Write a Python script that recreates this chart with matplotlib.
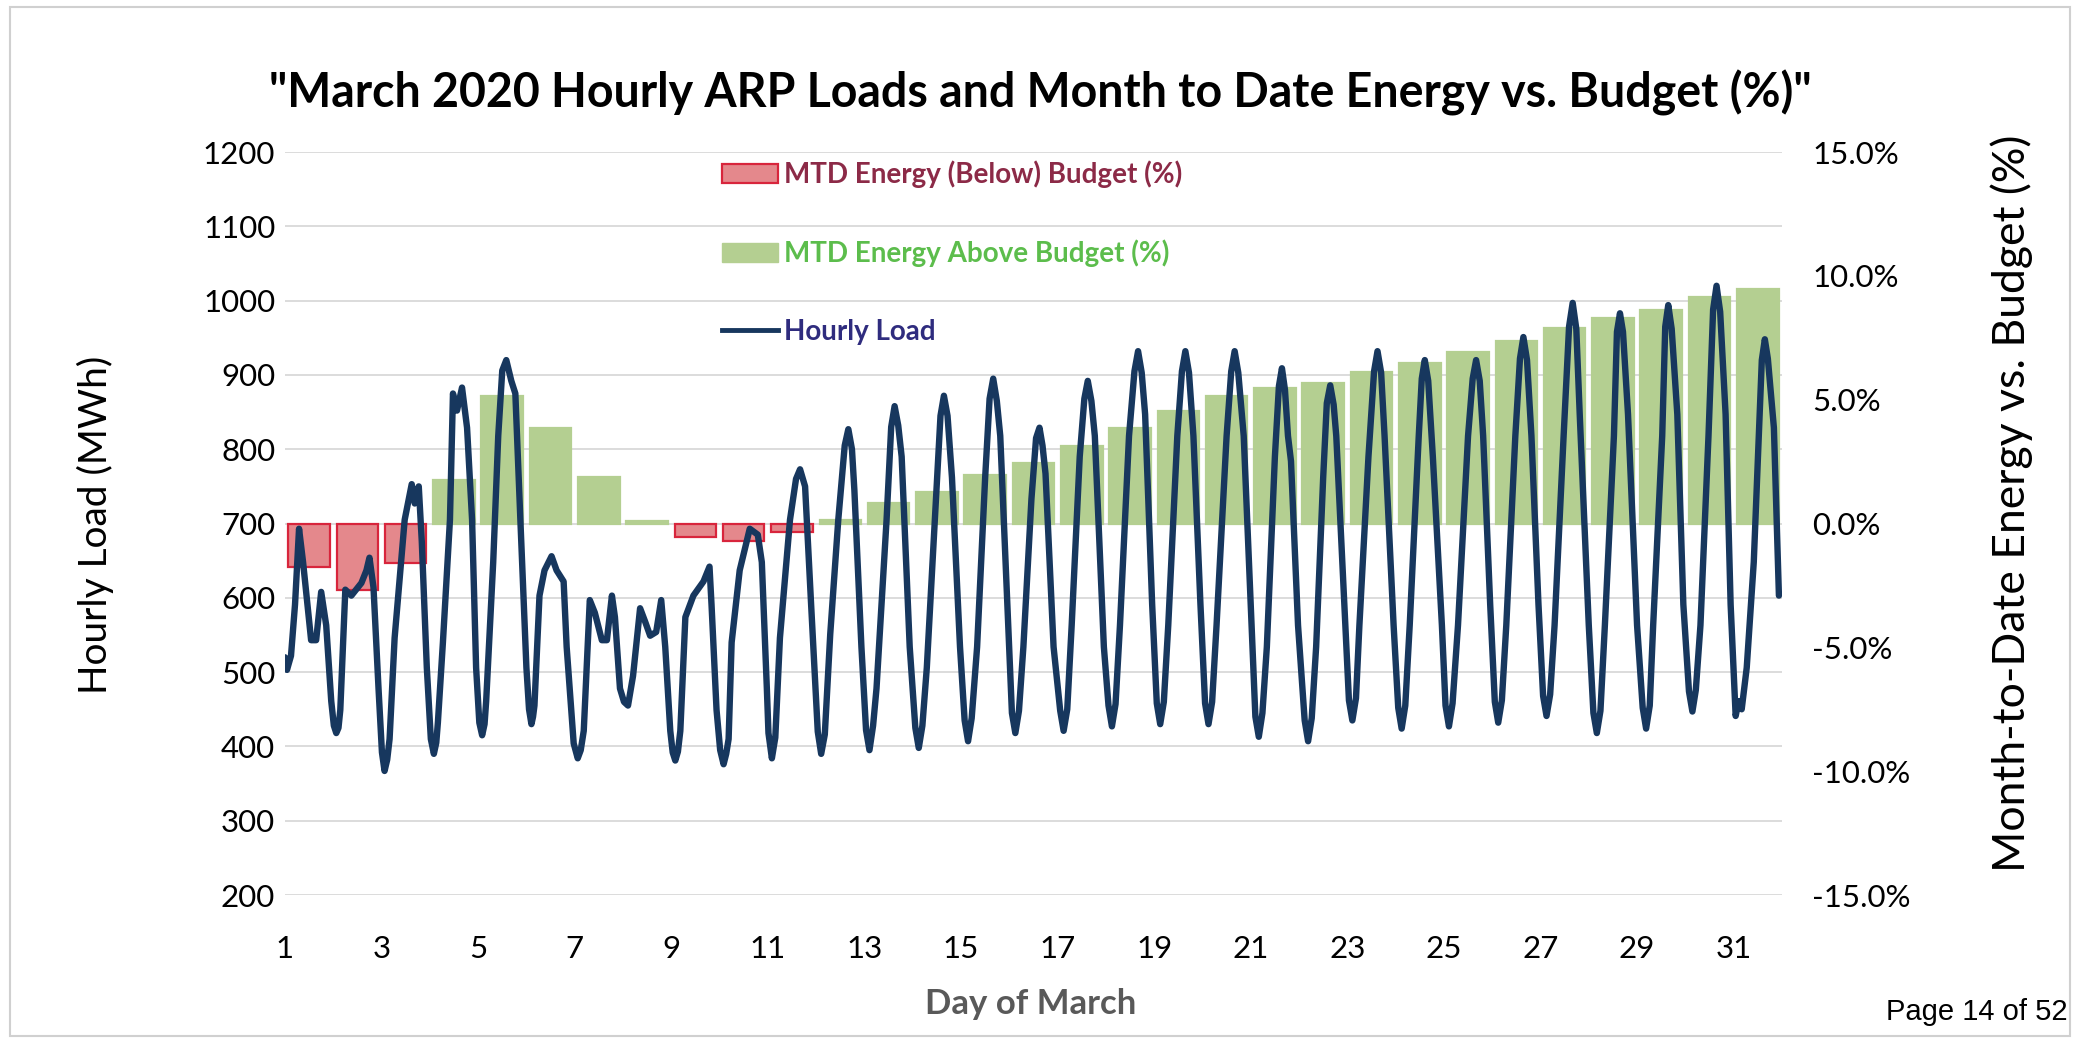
import matplotlib.pyplot as plt
from matplotlib.patches import Patch, Rectangle
from matplotlib.lines import Line2D

plt.rcParams['font.family'] = ['Lato', 'DejaVu Sans']

# month-to-date energy vs budget, one bar per day (%)
days = list(range(1, 32))
mtd_pct = [-1.77, -2.67, -1.59, 1.77, 5.16, 3.84, 1.89, 0.12, -0.54, -0.72,
           -0.36, 0.14, 0.81, 1.29, 1.95, 2.43, 3.12, 3.84, 4.56, 5.13,
           5.46, 5.67, 6.13, 6.47, 6.92, 7.38, 7.89, 8.28, 8.62, 9.13, 9.45]

# hourly load: (hour of month, MWh)
load_points = [
    # days 1-10
    (0, 520), (1, 503), (3, 522), (5, 591), (7, 693), (9, 648), (13, 543), (15.5, 543), (18, 608),
    (20.5, 563), (23, 461), (24.3, 428), (25.5, 418), (26.6, 425), (27.5, 449), (30, 611), (33, 603),
    (38, 620), (40.5, 637), (42, 654), (44, 614), (46.5, 478), (48.2, 392), (49.5, 367), (50.8, 382),
    (52, 410), (54.5, 546), (59.5, 705), (63, 753), (64.5, 727), (66.5, 750), (68, 676), (70.5, 506),
    (72.5, 410), (74, 390), (75.2, 405), (76, 432), (78.5, 540), (82, 705), (83.5, 875), (85.5, 852),
    (88, 883), (90.5, 829), (93, 705), (95, 506), (96.6, 432), (98, 415), (99.2, 430), (100, 461),
    (103.5, 648), (106, 818), (108, 906), (110, 920), (112.5, 892), (114.5, 875), (117, 705), (120, 506),
    (121.3, 450), (122.5, 430), (123.3, 440), (124, 455), (126.5, 603), (129, 637), (132.5, 656),
    (135, 637), (138.5, 622), (140, 534), (143.5, 404), (145.5, 384), (147, 395), (148.5, 421),
    (151.5, 597), (154, 580), (157.5, 543), (160, 543), (162.5, 603), (164, 574), (166.5, 478),
    (168.5, 460), (170.5, 455), (173, 495), (176.5, 586), (179, 568), (181.5, 549), (184.5, 554),
    (187, 597), (189, 534), (191.5, 421), (192.7, 392), (194, 381), (195.3, 393), (196.5, 421),
    (199, 574), (203, 603), (208, 622), (211, 642), (212, 591), (214.5, 449), (216.3, 395), (218, 376),
    (219.3, 390), (220.5, 410), (222, 540), (226, 637), (231, 693), (235, 685), (237, 648),
    # days 11-20
    (239.5, 478), (240.3, 418), (242, 384), (243.7, 412), (246, 546), (251, 705), (254, 760), (256, 773),
    (258.5, 750), (261.5, 591), (264.8, 420), (266.5, 390), (268.3, 416), (271, 551), (275, 705),
    (278.2, 805), (280, 827), (281.8, 800), (283, 745), (286.5, 534), (288.8, 422), (290.5, 395),
    (292.3, 428), (294, 478), (299, 705), (301.3, 830), (303, 858), (304.8, 832), (306.5, 790),
    (310.5, 534), (313.3, 425), (315, 398), (316.8, 428), (319, 506), (323, 705), (325.8, 845),
    (327.5, 872), (329.3, 845), (331.5, 762), (335.5, 534), (337.8, 435), (339.5, 407), (341.3, 438),
    (344, 534), (348, 762), (350.2, 868), (352, 895), (353.8, 865), (355.5, 818), (359.5, 563),
    (361.3, 445), (363, 418), (364.8, 448), (367, 534), (371, 733), (373.3, 815), (375, 829),
    (376.5, 805), (378, 767), (382, 534), (385.3, 448), (387, 421), (388.8, 450), (391, 563), (395, 790),
    (397.3, 868), (399, 892), (400.8, 865), (402.5, 818), (407, 534), (409.3, 455), (411, 427),
    (412.8, 457), (415, 563), (419.5, 818), (422.2, 905), (424, 932), (425.8, 903), (427.5, 847),
    (431, 591), (433.3, 458), (435, 430), (436.8, 460), (439, 563), (443.5, 818), (445.8, 905),
    (447.5, 932), (449.3, 903), (451.5, 818), (455, 591), (457.3, 458), (459, 430), (460.8, 460),
    (463, 563), (468, 818), (470.3, 905), (472, 932), (473.8, 903), (476.5, 818), (480, 591),
    # days 21-31
    (482.3, 440), (484, 413), (485.8, 445), (488, 534), (492, 790), (494, 885), (495.5, 909), (497, 880),
    (498.5, 818), (500, 784), (503.5, 563), (506.8, 435), (508.5, 407), (510.3, 438), (512.5, 534),
    (516, 762), (517.8, 862), (519.5, 886), (521.2, 860), (522.5, 818), (526.5, 591), (528.8, 462),
    (530.5, 435), (532.3, 465), (534, 563), (538.5, 790), (541.3, 905), (543, 932), (544.8, 903),
    (546.5, 818), (551, 563), (553.3, 452), (555, 424), (556.8, 455), (559, 563), (563.5, 818),
    (565, 895), (566.5, 920), (568.2, 892), (570.5, 790), (575, 563), (576.8, 455), (578.5, 427),
    (580.3, 458), (583, 563), (588, 818), (590.3, 895), (592, 920), (593.8, 892), (595.5, 818),
    (599, 591), (601.3, 460), (603, 432), (604.8, 462), (607, 563), (611.5, 818), (613.8, 922),
    (615.5, 951), (617.3, 920), (619.5, 818), (623, 591), (625.3, 468), (627, 441), (628.8, 470),
    (631, 563), (635.5, 818), (638.2, 965), (640, 997), (641.8, 962), (643.5, 847), (648, 563),
    (650.3, 445), (652, 418), (653.8, 448), (656, 563), (660.5, 818), (662, 958), (663.5, 983),
    (665, 958), (667.5, 847), (672, 563), (674.8, 452), (676.5, 424), (678.3, 455), (680, 563),
    (684.5, 818), (686, 965), (687.5, 994), (689.2, 962), (692, 847), (695, 591), (697.8, 474),
    (699.5, 447), (701.2, 476), (703.5, 563), (707.5, 818), (709.8, 988), (711.5, 1020), (713.3, 985),
    (716, 847), (718.5, 591), (721, 441), (722.5, 461), (724, 450), (726.5, 506), (730, 648),
    (734, 920), (735.5, 948), (737, 922), (738.5, 875), (740, 829), (742.5, 603),
]
load_hour = [p[0] for p in load_points]
load_mwh = [p[1] for p in load_points]

x_tick_days = list(range(1, 32, 2))
left_ticks = list(range(200, 1300, 100))
right_ticks = [-15, -10, -5, 0, 5, 10, 15]

red_fill = '#e4888c'
red_edge = '#d8253c'
green_fill = '#b4cf91'
line_col = '#17375e'

fig = plt.figure(figsize=(20.8, 10.4), dpi=100)
ax = fig.add_axes([0.137, 0.1394, 0.7197, 0.7144])
ax2 = ax.twinx()
ax3 = ax.twinx()

# bars (right axis)
bar_x = [(d - 0.5) * 24 for d in days]
fills = [red_fill if v < 0 else green_fill for v in mtd_pct]
edges = [red_edge if v < 0 else green_fill for v in mtd_pct]
ax2.bar(bar_x, mtd_pct, width=0.86 * 24, color=fills, edgecolor=edges, linewidth=1.6)

# hourly load line (left scale)
ax3.plot(load_hour, load_mwh, color=line_col, lw=4.6, solid_joinstyle='round', solid_capstyle='round')

for a in (ax, ax2, ax3):
    a.set_xlim(0, 744)
    for s in a.spines.values():
        s.set_visible(False)
    a.tick_params(length=0)

ax.set_ylim(200, 1200)
ax3.set_ylim(200, 1200)
ax3.set_yticks([])
ax2.set_ylim(-15, 15)

ax.set_yticks(left_ticks)
ax.set_yticklabels([str(v) for v in left_ticks], fontsize=22.5)
ax.yaxis.grid(True, color='#d9d9d9', lw=1.3)
ax.tick_params(axis='y', pad=7)
ax2.set_yticks(right_ticks)
ax2.set_yticklabels(['%.1f%%' % v for v in right_ticks], fontsize=22.5)
ax2.tick_params(axis='y', pad=22)

ax.set_xticks([(d - 1) * 24 for d in x_tick_days])
ax.set_xticklabels([str(d) for d in x_tick_days], fontsize=22.5)
ax.tick_params(axis='x', pad=29)

handles = [Patch(facecolor=red_fill, edgecolor=red_edge, lw=1.6),
           Patch(facecolor=green_fill, edgecolor=green_fill),
           Line2D([0], [0], color=line_col, lw=3.5)]
labels = ['MTD Energy (Below) Budget (%)', 'MTD Energy Above Budget (%)', 'Hourly Load']
leg = ax3.legend(handles, labels, loc='upper left', bbox_to_anchor=(0.342, 0.856),
                 bbox_transform=fig.transFigure, frameon=False,
                 prop={'weight': 'bold', 'size': 20}, labelspacing=1.85,
                 handlelength=2.0, handleheight=0.7, handletextpad=0.2, borderaxespad=0)
for t, c in zip(leg.get_texts(), ['#8c2a47', '#5cbd4c', '#2f2c7e']):
    t.set_color(c)

fig.text(0.5, 0.911, '"March 2020 Hourly ARP Loads and Month to Date Energy vs. Budget (%)"',
         ha='center', va='center', fontsize=33.5, fontweight='bold', color='black')
fig.text(0.4957, 0.035, 'Day of March', ha='center', va='center',
         fontsize=25, fontweight='bold', color='#595959')
fig.text(0.046, 0.495, 'Hourly Load (MWh)', rotation=90, ha='center', va='center', fontsize=28)
fig.text(0.967, 0.516, 'Month-to-Date Energy vs. Budget (%)', rotation=90,
         ha='center', va='center', fontsize=32)
fig.text(0.994, 0.027, 'Page 14 of 52', ha='right', va='center',
         fontsize=21, family='Liberation Sans')

fig.patches.append(Rectangle((0.005, 0.004), 0.99, 0.989, transform=fig.transFigure,
                             fill=False, edgecolor='#d0d0d0', lw=1.5))

fig.savefig('out.png', dpi=100, facecolor='white')
